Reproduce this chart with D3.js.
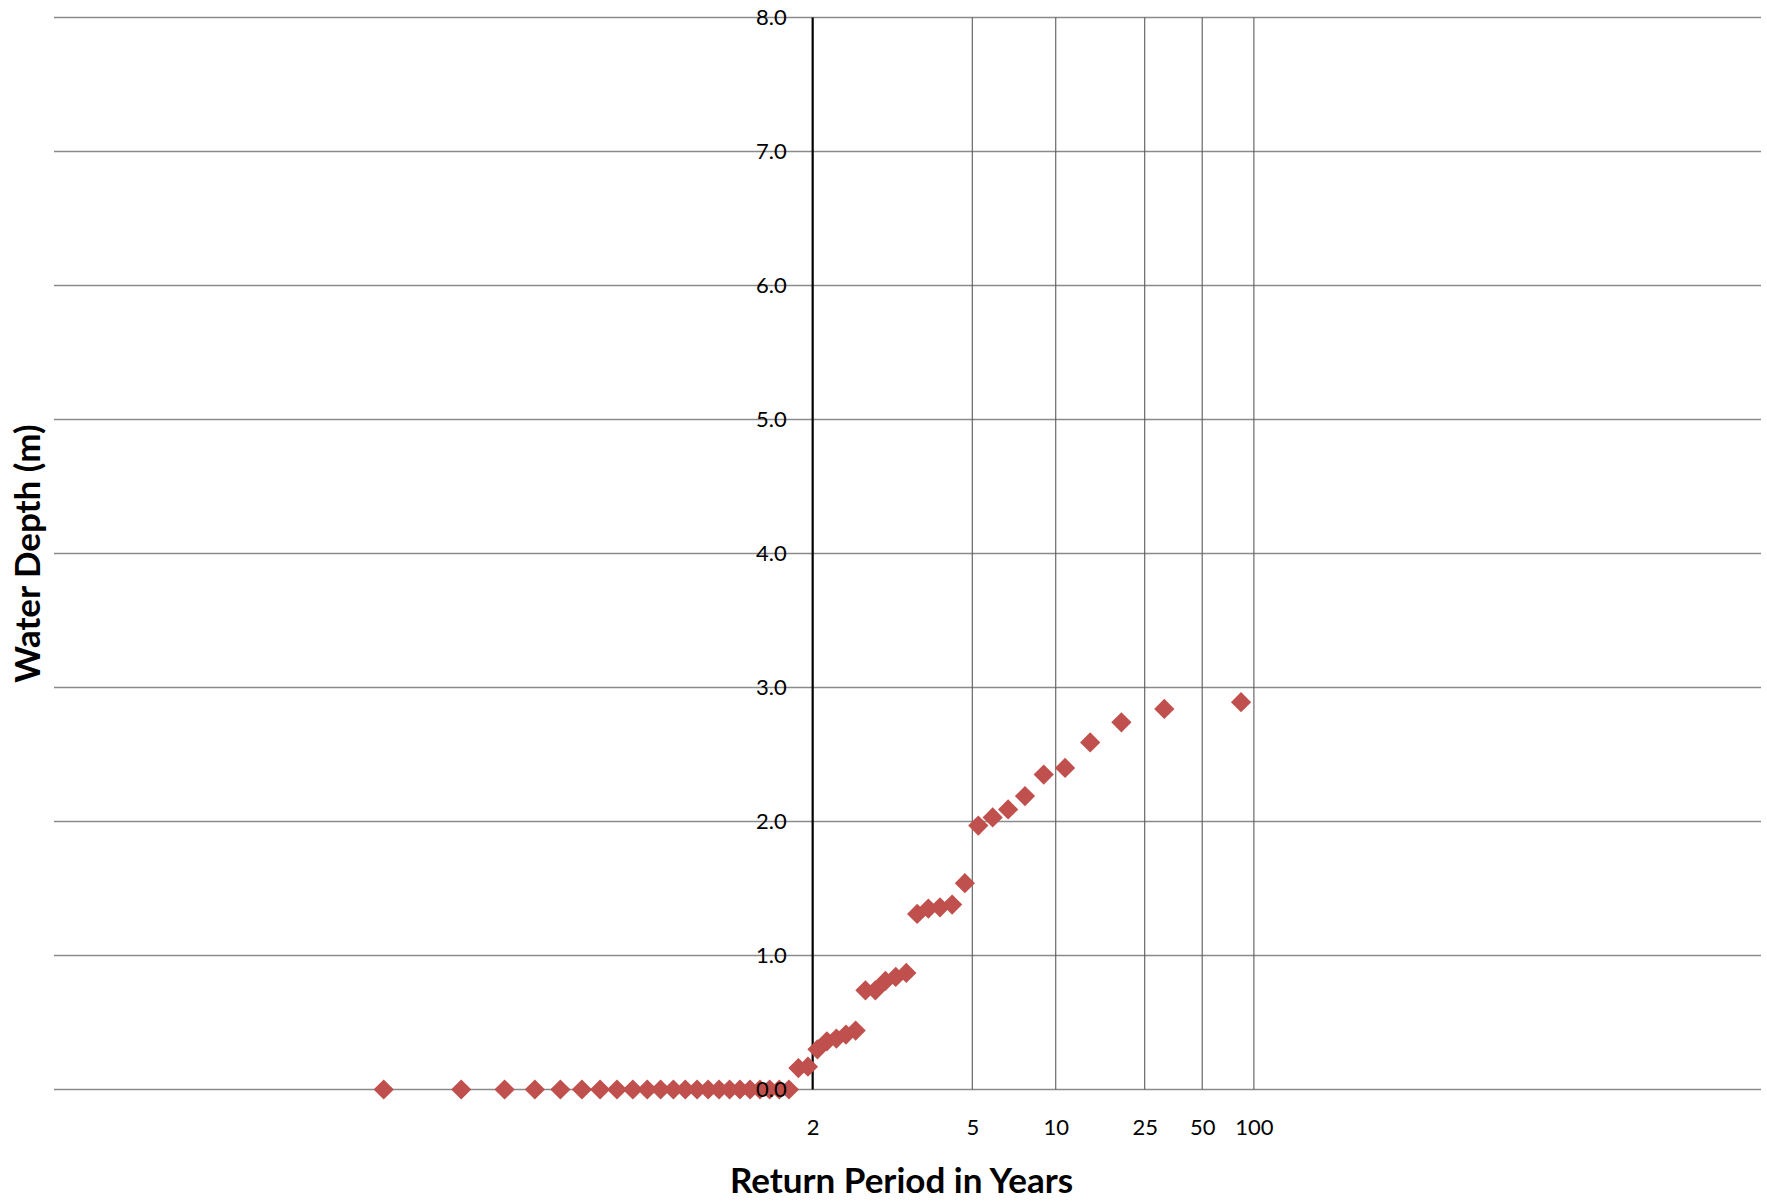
<!DOCTYPE html>
<html>
<head>
<meta charset="utf-8">
<script src="https://cdn.jsdelivr.net/npm/d3@7"></script>
<style>
  html, body { margin: 0; padding: 0; background: #fff; }
  svg { display: block; font-family: Lato, "Open Sans", sans-serif; }
</style>
</head>
<body>
<svg id="chart" width="1767" height="1202"></svg>
<script>
// Annual maximum water depths (m), ranked smallest to largest,
// with the return period (years) assigned to each by its plotting position.
const returnPeriods = [
  1.012, 1.033, 1.055, 1.077, 1.101, 1.126, 1.151, 1.178, 1.207, 1.237,
  1.268, 1.301, 1.335, 1.372, 1.410, 1.451, 1.494, 1.540, 1.589, 1.641,
  1.696, 1.755, 1.819, 1.887, 1.961, 2.041, 2.127, 2.221, 2.324, 2.437,
  2.561, 2.699, 2.852, 3.024, 3.218, 3.438, 3.691, 3.984, 4.328, 4.736,
  5.229, 5.837, 6.605, 7.606, 8.964, 10.913, 13.945, 19.308, 31.375, 83.667
];
const waterDepths = [
  0, 0, 0, 0, 0, 0, 0, 0, 0, 0,
  0, 0, 0, 0, 0, 0, 0, 0, 0, 0,
  0, 0, 0, 0.16, 0.17, 0.30, 0.36, 0.38, 0.41, 0.44,
  0.74, 0.74, 0.81, 0.84, 0.87, 1.31, 1.35, 1.36, 1.38, 1.54,
  1.97, 2.03, 2.09, 2.19, 2.35, 2.40, 2.59, 2.74, 2.84, 2.89
];
const periodTicks = [2, 5, 10, 25, 50, 100];
const depthTicks = [0, 1, 2, 3, 4, 5, 6, 7, 8];

// Inverse of the standard normal CDF (Acklam's rational approximation).
function normInv(p) {
  const a = [-3.969683028665376e+01, 2.209460984245205e+02, -2.759285104469687e+02,
             1.383577518672690e+02, -3.066479806614716e+01, 2.506628277459239e+00];
  const b = [-5.447609879822406e+01, 1.615858368580409e+02, -1.556989798598866e+02,
             6.680131188771972e+01, -1.328068155288572e+01];
  const c = [-7.784894002430293e-03, -3.223964580411365e-01, -2.400758277161838e+00,
             -2.549671010624276e+00, 4.374664141464968e+00, 2.938163982698783e+00];
  const d = [7.784695709041462e-03, 3.224671290700398e-01, 2.445134137142996e+00,
             3.754408661907416e+00];
  const pl = 0.02425, ph = 1 - pl;
  let q, r;
  if (p < pl) {
    q = Math.sqrt(-2 * Math.log(p));
    return (((((c[0]*q + c[1])*q + c[2])*q + c[3])*q + c[4])*q + c[5]) /
           ((((d[0]*q + d[1])*q + d[2])*q + d[3])*q + 1);
  }
  if (p <= ph) {
    q = p - 0.5; r = q * q;
    return (((((a[0]*r + a[1])*r + a[2])*r + a[3])*r + a[4])*r + a[5]) * q /
           (((((b[0]*r + b[1])*r + b[2])*r + b[3])*r + b[4])*r + 1);
  }
  q = Math.sqrt(-2 * Math.log(1 - p));
  return -(((((c[0]*q + c[1])*q + c[2])*q + c[3])*q + c[4])*q + c[5]) /
          ((((d[0]*q + d[1])*q + d[2])*q + d[3])*q + 1);
}
// Normal probability position of a return period (non-exceedance 1 - 1/T).
const zOf = T => normInv(1 - 1 / T);

const svg = d3.select("#chart");
const plot = { left: 54, right: 1761, top: 17.5, bottom: 1089.5 };

const xz = d3.scaleLinear().domain([-4, 5]).range([plot.left, plot.right]);
const x = T => xz(zOf(T));
const y = d3.scaleLinear().domain([0, 8]).range([plot.bottom, plot.top]);

// Horizontal gridlines across the full plot width
svg.append("g")
  .selectAll("line")
  .data(depthTicks)
  .join("line")
  .attr("x1", plot.left).attr("x2", plot.right)
  .attr("y1", d => y(d)).attr("y2", d => y(d))
  .attr("stroke", "#8a8a8a")
  .attr("stroke-width", 1.6);

// Vertical gridlines at the return periods beyond 2 years
svg.append("g")
  .selectAll("line")
  .data(periodTicks.slice(1))
  .join("line")
  .attr("x1", d => x(d)).attr("x2", d => x(d))
  .attr("y1", y(8)).attr("y2", y(0))
  .attr("stroke", "#5a5a5a")
  .attr("stroke-width", 1.1);

// Depth axis line at the 2-year return period
svg.append("line")
  .attr("x1", x(2)).attr("x2", x(2))
  .attr("y1", y(8)).attr("y2", y(0))
  .attr("stroke", "#000")
  .attr("stroke-width", 2.2);

// Observed depths as diamond markers
const diamond = d3.symbol().type(d3.symbolSquare).size(205);
svg.append("g")
  .selectAll("path")
  .data(returnPeriods.map((T, i) => ({ T, depth: waterDepths[i] })))
  .join("path")
  .attr("d", diamond)
  .attr("transform", d => `translate(${x(d.T)},${y(d.depth)}) rotate(45)`)
  .attr("fill", "#C0504D");

// Depth labels, drawn over the markers
const yAxis = svg.append("g")
  .attr("transform", `translate(${x(2)},0)`)
  .call(d3.axisLeft(y).tickValues(depthTicks).tickSize(0).tickPadding(26)
    .tickFormat(d3.format(".1f")));
yAxis.select(".domain").remove();
yAxis.selectAll("text")
  .attr("font-family", "Lato, sans-serif")
  .attr("font-size", 22)
  .attr("fill", "#000");

// Return period labels along the bottom
const xAxis = svg.append("g")
  .attr("transform", `translate(0,${y(0)})`)
  .call(d3.axisBottom(xz)
    .tickValues(periodTicks.map(zOf))
    .tickFormat((d, i) => periodTicks[i])
    .tickSize(0).tickPadding(30));
xAxis.select(".domain").remove();
xAxis.selectAll("text")
  .attr("font-family", "Lato, sans-serif")
  .attr("font-size", 22)
  .attr("fill", "#000");

// Axis titles
svg.append("text")
  .attr("x", (plot.left + plot.right) / 2 - 6)
  .attr("y", 1193)
  .attr("text-anchor", "middle")
  .attr("font-size", 35)
  .attr("font-weight", "bold")
  .attr("fill", "#000")
  .text("Return Period in Years");

svg.append("text")
  .attr("transform", `translate(40,${(plot.top + plot.bottom) / 2}) rotate(-90)`)
  .attr("text-anchor", "middle")
  .attr("font-size", 35)
  .attr("font-weight", "bold")
  .attr("fill", "#000")
  .text("Water Depth (m)");
</script>
</body>
</html>
